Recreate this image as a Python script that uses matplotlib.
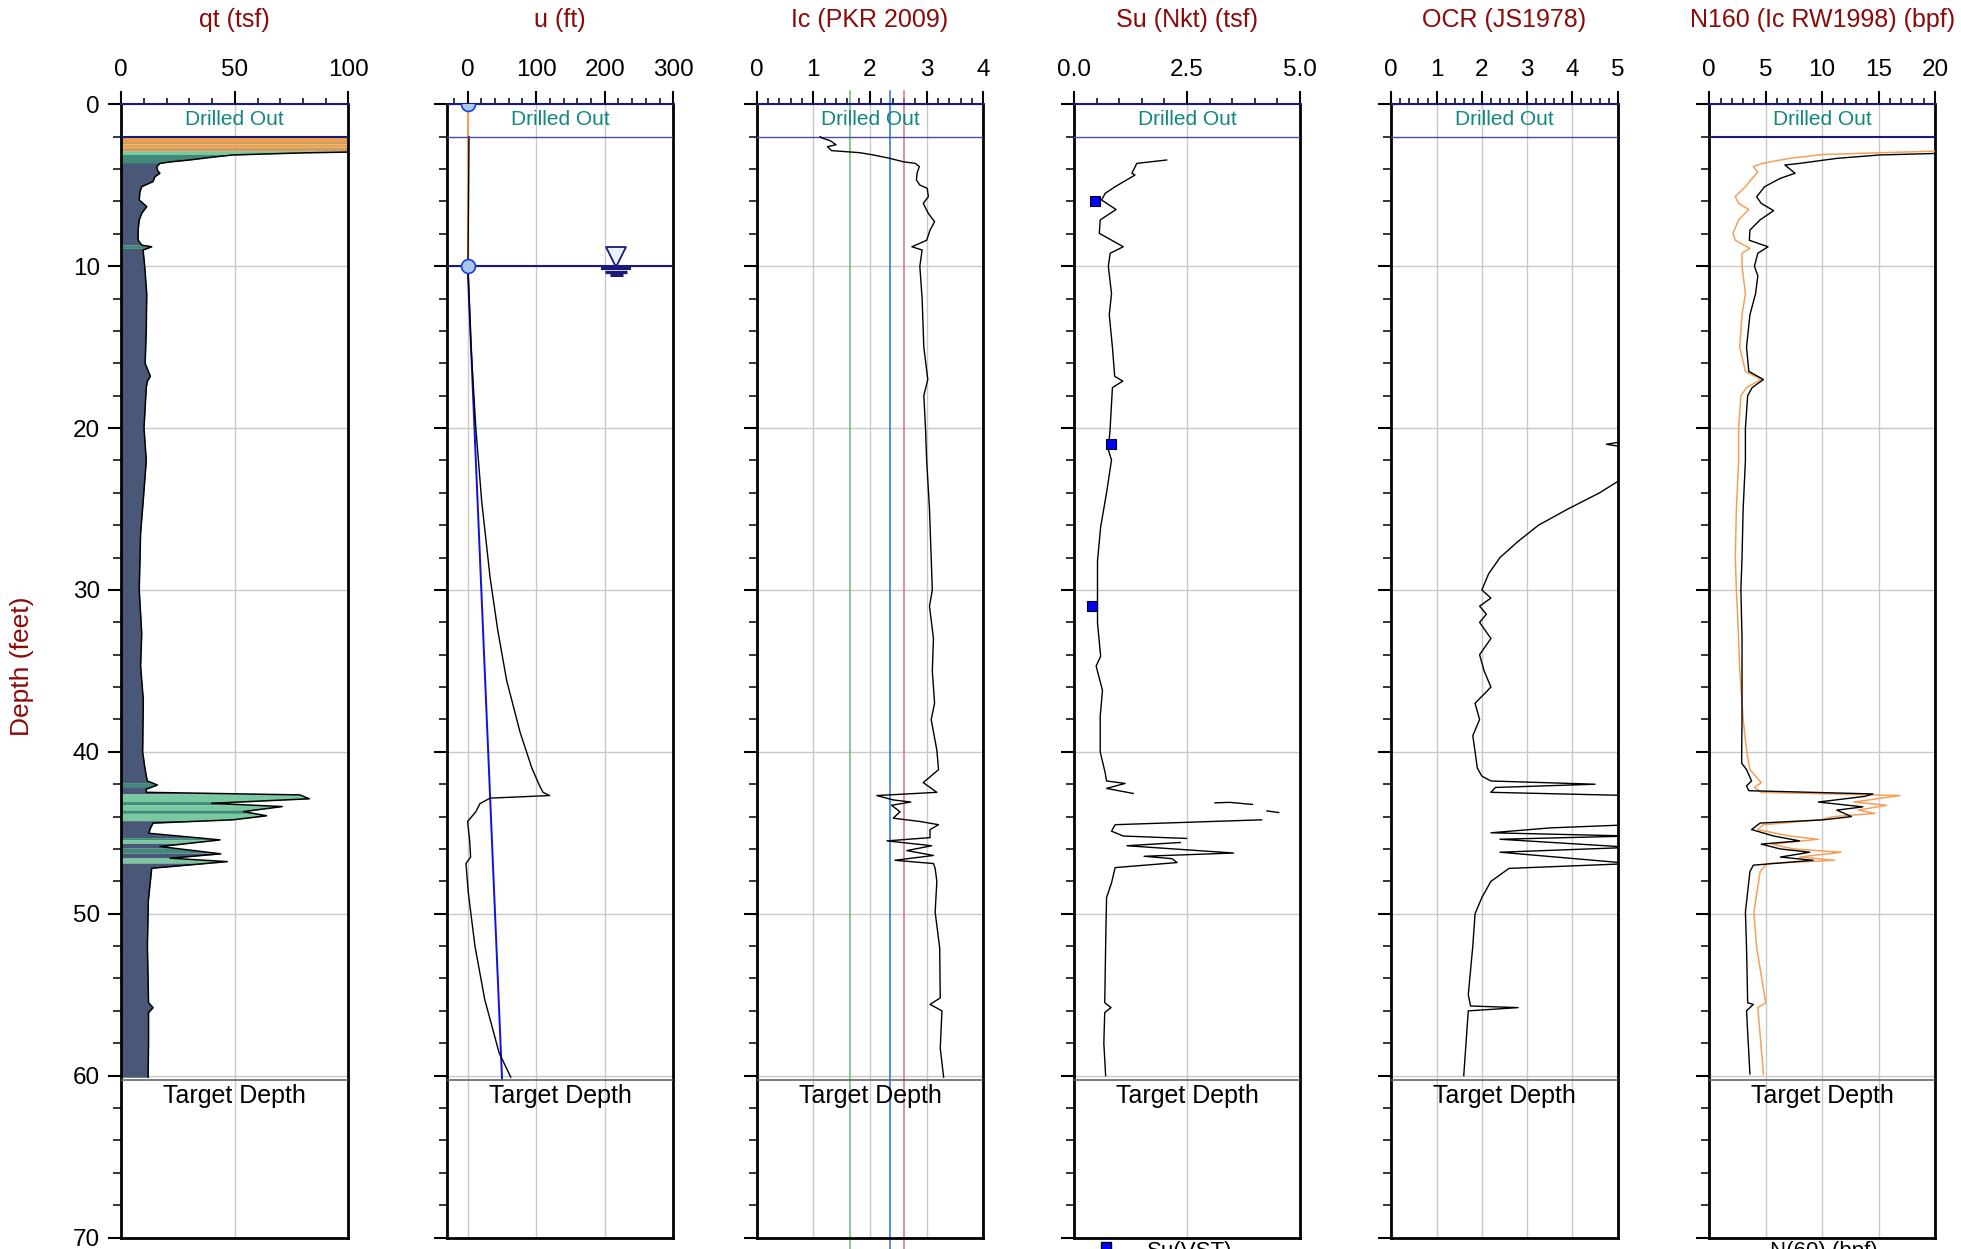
import numpy as np
import matplotlib
matplotlib.use("Agg")
import matplotlib.pyplot as plt
from matplotlib.ticker import MultipleLocator

plt.rcParams['font.family'] = ['Liberation Sans', 'DejaVu Sans']

# ---------------- data ----------------
titles = ["qt (tsf)", "u (ft)", "Ic (PKR 2009)", "Su (Nkt) (tsf)", "OCR (JS1978)", "N160 (Ic RW1998) (bpf)"]
xlims = [(0, 100), (-30.5, 300), (0, 4), (0, 5), (0, 5), (0, 20)]
xmajor = [50, 100, 1, 2.5, 1, 5]
xminor = [10, 20, 0.2, 0.5, 0.2, 1]
xfmt = [None, None, None, "%.1f", None, None]

drilled_out_depth = 2.0
target_depth = 60.25
water_depth = 10.0

# qt profile
qt_depth = [2.0, 2.9, 2.95, 3.0, 3.13, 3.3, 3.44, 3.55, 3.65, 3.85, 4.1, 4.26, 4.47, 4.77, 5.09, 5.4,
            5.91, 6.32, 6.73, 7.14, 7.76, 8.38, 8.7, 8.8, 9.0, 10.0, 11.7, 14.0, 16.0, 16.8, 17.1,
            17.5, 20.0, 22.0, 24.4, 26.5, 30.0, 32.7, 34.7, 36.8, 40.0, 40.9, 41.5, 41.8, 42.05, 42.3,
            42.5, 42.66, 42.9, 43.18, 43.38, 43.69, 43.95, 44.2, 44.4, 44.72, 45.03, 45.44, 45.85,
            46.3, 46.57, 46.78, 47.19, 49.2, 52.0, 55.5, 55.8, 56.1, 58.0, 60.1]
qt_value = [160, 120, 100, 80, 49, 38, 30, 22, 17, 15.6, 16, 17, 14.8, 14, 9, 8.2,
            7.9, 11.2, 9, 7.9, 7.4, 7.4, 9, 13.4, 9.6, 10.3, 11.2, 11, 10.5, 12.8, 11.5,
            11, 10, 11, 9.7, 8.5, 7.9, 9.0, 8.5, 9.7, 9.4, 10.3, 11, 11.5, 15.9, 11,
            11, 78.7, 82.8, 39.8, 70.9, 53.8, 64, 49, 14, 12.8, 12.1, 43.5, 17,
            43.8, 21.5, 46.7, 13.4, 11.9, 11.5, 12, 14, 12, 12, 11.8]
# soil behaviour layers: top, bottom, class
sbt_top = [2.0, 2.3, 2.45, 2.65, 2.9, 3.1, 3.6, 8.7, 8.9, 41.9, 42.15, 42.6, 43.07, 43.28, 43.59, 43.8,
           44.25, 45.3, 45.42, 45.65, 45.95, 46.25, 46.56, 46.87]
sbt_bot = [2.3, 2.45, 2.65, 2.9, 3.1, 3.6, 8.7, 8.9, 41.9, 42.15, 42.6, 43.07, 43.28, 43.59, 43.8, 44.25,
           45.3, 45.42, 45.65, 45.95, 46.25, 46.56, 46.87, 60.1]
sbt_cls = ["sand", "sandsilt", "sand", "sandsilt", "sandmix", "siltmix", "clay", "siltmix", "clay",
           "siltmix", "clay", "sandmix", "siltmix", "sandmix", "siltmix", "sandmix",
           "clay", "siltmix", "sandmix", "clay", "siltmix", "clay", "sandmix", "clay"]
sbt_colors = {"clay": "#4a5877", "siltmix": "#3f8a79", "sandmix": "#79c9a0",
              "sandsilt": "#c9a062", "sand": "#f0a04b"}

# pore pressure u2 (ft of water)
u_depth = [2.0, 5.0, 10.0, 15.0, 20.0, 24.5, 29.2, 32.5, 35.6, 38.8, 41.0, 42.1, 42.5, 42.7, 42.86,
           43.2, 43.7, 44.3, 45.5, 46.5, 46.9, 48.7, 52.0, 55.3, 58.6, 60.1]
u_value = [2.0, 1.5, 0.5, 5.0, 12.0, 20.5, 32.7, 44.0, 57.0, 76.6, 93.7, 105.0, 110.0, 119.5, 32.7,
           18.0, 12.0, 0.0, 3.0, 4.4, -2.4, 1.0, 10.7, 25.0, 46.0, 63.0]
u0_depth = [10.0, 60.25]
u0_value = [0.0, 50.25]
dry_depth = [0.0, 10.0]
dry_value = [0.0, 0.0]
wt_symbol_u = 217.0

# Ic
ic_depth = [2.0, 2.08, 2.25, 2.5, 2.62, 2.86, 2.99, 3.13, 3.34, 3.55, 3.65, 3.85, 4.26, 4.68, 4.99, 5.19,
            5.71, 6.12, 6.74, 7.25, 7.77, 8.4, 8.8, 9.0, 10.0, 12.0, 15.0, 17.0, 18.0, 20.0, 22.0, 25.0,
            28.0, 30.0, 31.0, 33.0, 35.0, 37.0, 38.0, 39.9, 41.1, 41.9, 42.5, 42.7, 42.97, 43.1, 43.3,
            43.7, 44.1, 44.3, 44.5, 44.8, 45.3, 45.5, 45.8, 46.1, 46.4, 46.7, 46.9, 47.2, 48.0, 49.9,
            52.1, 55.2, 55.6, 56.0, 58.3, 60.1]
ic_value = [1.12, 1.15, 1.30, 1.40, 1.25, 1.32, 1.82, 2.06, 2.35, 2.59, 2.80, 2.87, 2.83, 2.82, 2.88, 3.01,
            3.03, 2.94, 3.03, 3.14, 3.06, 3.00, 2.74, 2.92, 2.88, 2.92, 2.95, 3.02, 2.95, 2.98, 3.00, 3.05,
            3.08, 3.10, 3.05, 3.12, 3.10, 3.14, 3.08, 3.18, 3.21, 2.94, 3.18, 2.12, 2.41, 2.72, 2.38,
            2.53, 2.41, 2.88, 3.21, 3.06, 3.06, 2.30, 3.09, 2.65, 3.12, 2.44, 3.12, 3.15, 3.18, 3.15,
            3.23, 3.24, 3.06, 3.27, 3.24, 3.30]
ic_bounds = [1.64, 2.36, 2.60]
ic_bound_colors = ["#66bb77", "#2a6fd6", "#e07080"]

# Su (Nkt), NaN = gap
su_depth = [3.44, 3.65, 4.26, 4.37, 5.09, 5.5, 5.91, 6.5, 7.14, 7.97, 8.8, 9.2, 10.0, 11.7, 13.0, 15.0,
            16.8, 17.1, 17.5, 20.0, 21.35, 21.97, 24.0, 26.1, 28.2, 30.0, 32.05, 34.1, 34.7, 36.2, 37.8,
            40.0, 41.3, 41.8, 41.95, 42.26, 42.57, np.nan, 43.15, 43.12, 43.25, np.nan, 43.65, 43.75,
            np.nan, 44.2, 44.5, 44.9, 45.2, 45.35, np.nan, 45.6, 45.8, 46.25, 46.45, 46.6, 46.84, 47.15,
            48.1, 49.0, 52.0, 55.5, 55.8, 56.1, 58.0, 60.0]
su_value = [2.05, 1.39, 1.28, 1.35, 0.91, 0.69, 0.61, 0.93, 0.58, 0.56, 1.09, 0.80, 0.76, 0.83, 0.78, 0.85,
            0.90, 1.08, 0.85, 0.80, 0.76, 0.83, 0.72, 0.59, 0.52, 0.52, 0.52, 0.59, 0.49, 0.63, 0.58,
            0.58, 0.69, 0.72, 1.13, 0.72, 1.31, np.nan, 3.12, 3.45, 3.95, np.nan, 4.27, 4.53,
            np.nan, 4.15, 0.91, 0.83, 1.09, 2.49, np.nan, 2.35, 1.17, 3.53, 1.55, 2.17, 2.28, 0.91,
            0.83, 0.72, 0.70, 0.68, 0.82, 0.68, 0.66, 0.70]
vst_depth = [6.0, 21.0, 31.0]
vst_value = [0.46, 0.81, 0.40]

# OCR
ocr_depth = [20.8, 21.0, 21.2, np.nan, 23.3, 24.0, 25.0, 26.0, 27.0, 28.0, 29.0, 30.0, 30.5, 31.0, 31.5,
             32.0, 33.0, 34.0, 35.0, 36.0, 37.0, 38.0, 39.0, 40.0, 41.0, 41.5, 41.8, 42.0, 42.2, 42.5,
             42.7, 44.5, 44.7, 45.0, 45.2, 45.4, 45.9, 46.2, 46.9, 47.2, 48.0, 49.0, 50.0, 52.0, 55.0,
             55.7, 55.8, 56.0, 58.0, 60.0]
ocr_value = [5.2, 4.75, 5.2, np.nan, 5.0, 4.6, 3.9, 3.25, 2.8, 2.4, 2.15, 2.0, 2.2, 1.95, 2.1,
             1.95, 2.2, 1.95, 2.05, 2.2, 1.85, 1.95, 1.8, 1.85, 1.9, 2.0, 2.2, 4.5, 2.3, 2.2,
             5.3, 5.3, 3.5, 2.2, 5.3, 2.4, 5.3, 2.4, 5.3, 2.6, 2.2, 2.0, 1.85, 1.8, 1.7,
             1.75, 2.8, 1.7, 1.65, 1.6]

# N1(60) and N(60)
n160_depth = [3.0, 3.13, 3.34, 3.65, 3.75, 4.26, 4.57, 5.09, 5.71, 6.12, 6.57, 7.14, 7.77, 8.4, 8.8, 9.2,
              10.0, 10.6, 11.7, 13.0, 15.0, 16.5, 17.0, 17.5, 18.0, 20.0, 22.0, 25.0, 28.0, 30.0, 33.0,
              35.0, 38.0, 39.9, 40.7, 41.1, 41.8, 42.1, 42.4, 42.6, 42.75, 43.1, 43.4, 43.6, 44.0, 44.2,
              44.4, 44.8, 45.2, 45.5, 45.7, 46.0, 46.2, 46.5, 46.7, 47.0, 47.4, 49.9, 52.1, 55.5, 55.6,
              56.0, 59.9]
n160_value = [22, 15.1, 11.3, 8.0, 6.7, 7.6, 6.3, 4.9, 4.2, 4.6, 5.7, 4.5, 3.6, 3.55, 5.2, 4.3,
              4.0, 4.3, 4.1, 3.6, 3.3, 3.5, 4.8, 3.8, 3.4, 3.2, 3.2, 3.0, 2.9, 2.8, 2.9,
              2.9, 2.9, 2.87, 2.87, 3.3, 3.75, 3.3, 3.5, 14.5, 13.8, 9.66, 13.6, 11.3, 12.6, 10.1,
              4.5, 3.75, 5.7, 8.0, 4.6, 6.3, 8.9, 6.3, 9.2, 3.9, 3.6, 3.2, 3.3, 3.4, 3.9,
              3.3, 3.6]
n60_depth = [2.85, 3.1, 3.34, 3.65, 3.85, 4.2, 4.5, 5.09, 5.7, 6.12, 6.5, 7.14, 7.97, 8.4, 8.9, 9.2,
             10.0, 11.7, 13.0, 15.0, 16.5, 17.0, 17.5, 18.0, 20.0, 22.0, 25.0, 28.0, 30.0, 33.0, 35.0,
             38.0, 39.9, 41.1, 41.9, 42.2, 42.5, 42.7, 43.1, 43.3, 43.6, 43.8, 44.0, 44.2, 44.5, 44.8,
             45.2, 45.4, 45.7, 46.0, 46.2, 46.5, 46.7, 46.9, 47.4, 49.9, 52.1, 55.5, 55.8, 59.9]
n60_value = [22, 10.1, 7.1, 4.7, 3.9, 4.3, 3.9, 3.2, 2.3, 2.6, 3.5, 2.6, 2.1, 2.3, 3.6, 2.9,
             2.9, 3.2, 2.9, 2.7, 3.2, 4.6, 3.3, 2.8, 2.6, 2.6, 2.4, 2.3, 2.4, 2.6, 2.7,
             3.0, 3.3, 3.6, 4.6, 4.0, 4.6, 16.9, 12.8, 15.7, 13.2, 14.7, 11.0, 9.8, 4.8, 4.3,
             7.1, 9.66, 5.5, 7.5, 11.7, 8.0, 11.1, 5.1, 4.5, 3.95, 4.2, 5.0, 4.3, 4.8]

# ---------------- layout ----------------
W, H = 1961, 1249
fig = plt.figure(figsize=(W / 100, H / 100), dpi=100)
lefts = [121.3, 446.7, 756.7, 1074.0, 1391.3, 1709.3]
rights = [348.3, 673.3, 983.3, 1300.0, 1617.7, 1935.0]
top_px, bot_px = 104.3, 1237.5

TITLE_C = "#8b0a0a"
GRID_C = "#c9c9c9"
NAVY = "#1a1a78"
LINE_BLUE = "#4b4bb0"

axes = []
for i in range(6):
    ax = fig.add_axes([lefts[i] / W, 1 - bot_px / H, (rights[i] - lefts[i]) / W, (bot_px - top_px) / H])
    axes.append(ax)
    ax.set_xlim(*xlims[i])
    ax.set_ylim(70, 0)
    ax.xaxis.tick_top()
    ax.xaxis.set_major_locator(MultipleLocator(xmajor[i]))
    ax.xaxis.set_minor_locator(MultipleLocator(xminor[i]))
    if xfmt[i]:
        ax.xaxis.set_major_formatter(matplotlib.ticker.FormatStrFormatter(xfmt[i]))
    ax.yaxis.set_major_locator(MultipleLocator(10))
    ax.yaxis.set_minor_locator(MultipleLocator(2))
    ax.tick_params(axis='x', which='major', length=9.5, width=1.5, labelsize=17.5, pad=7,
                   top=True, bottom=False, labeltop=True, labelbottom=False, direction='out')
    ax.tick_params(axis='x', which='minor', length=4.5, width=1.1, top=True, bottom=False)
    ax.tick_params(axis='y', which='major', length=9.5, width=1.5, labelsize=17.5, pad=6,
                   left=True, right=False, labelleft=(i == 0))
    ax.tick_params(axis='y', which='minor', length=5.5, width=1.1, left=True, right=False)
    for s in ['left', 'right', 'bottom']:
        ax.spines[s].set_linewidth(2.0)
        ax.spines[s].set_color('black')
    ax.spines['top'].set_linewidth(1.5)
    ax.spines['top'].set_color(NAVY)
    # grid
    lo, hi = xlims[i]
    gx = np.arange(np.ceil(lo / xmajor[i]) * xmajor[i], hi, xmajor[i])
    for g in gx:
        if lo < g < hi:
            ax.axvline(g, color=GRID_C, lw=1.0, zorder=0)
    for g in range(10, 70, 10):
        ax.axhline(g, color=GRID_C, lw=1.0, zorder=0)
    # drilled out / target depth
    ax.axhline(0, color=NAVY, lw=1.5, zorder=3)
    ax.axhline(drilled_out_depth, color=(NAVY if i in (0, 5) else LINE_BLUE),
               lw=(1.5 if i in (0, 5) else 1.0), zorder=3)
    ax.text(0.5, drilled_out_depth / 2 - 0.05, "Drilled Out", transform=ax.get_yaxis_transform(),
            ha='center', va='center', color="#12877f", fontsize=15)
    ax.axhline(target_depth, color="#666666", lw=1.2, zorder=3)
    ax.text(0.5, target_depth + 1.0, "Target Depth", transform=ax.get_yaxis_transform(),
            ha='center', va='center', color="black", fontsize=18)
    fig.text((lefts[i] + rights[i]) / 2 / W, 1 - 20 / H, titles[i], ha='center', va='center',
             color=TITLE_C, fontsize=18)

fig.text(22 / W, 1 - 666 / H, "Depth (feet)", rotation=90, ha='center', va='center',
         color=TITLE_C, fontsize=19)

# ---- panel 1: qt with SBT fill ----
ax = axes[0]
qd = np.array(qt_depth)
qv = np.array(qt_value)
for t, b, c in zip(sbt_top, sbt_bot, sbt_cls):
    d = np.concatenate([[t], qd[(qd > t) & (qd < b)], [b]])
    v = np.interp(d, qd, qv)
    ax.fill_betweenx(d, 0, v, color=sbt_colors[c], lw=0, zorder=1)
ax.plot(qv, qd, color='black', lw=1.1, zorder=2)

# ---- panel 2: u ----
ax = axes[1]
ax.plot(dry_value, dry_depth, color="#f0a060", lw=1.5, zorder=2)
ax.plot(u0_value, u0_depth, color="#1010e0", lw=1.4, zorder=2)
ax.plot(u_value, u_depth, color='black', lw=1.0, zorder=2)
ax.plot([0, 0], [0, water_depth], ls='none', marker='o', ms=10, mfc="#a9c8f0", mec="#1a3fe0",
        mew=1.2, zorder=4)
ax.axhline(water_depth, color=NAVY, lw=1.5, zorder=3)
ax.plot([wt_symbol_u], [water_depth - 0.55], marker='v', ms=15, mfc="#e8f4ff", mec=NAVY, mew=1.3,
        ls='none', zorder=4)
for dd, half, lw_ in [(water_depth + 0.12, 22, 3.0), (water_depth + 0.38, 16, 2.4), (water_depth + 0.56, 10, 2.2)]:
    ax.plot([wt_symbol_u - half, wt_symbol_u + half], [dd, dd], color=NAVY, lw=lw_, solid_capstyle='butt', zorder=4)

# ---- panel 3: Ic ----
ax = axes[2]
for b, c in zip(ic_bounds, ic_bound_colors):
    ax.plot([b, b], [-0.8, 71.0], color=c, lw=1.1, clip_on=False, zorder=2)
ax.plot(ic_value, ic_depth, color='black', lw=1.0, zorder=3)

# ---- panel 4: Su ----
ax = axes[3]
ax.plot(su_value, su_depth, color='black', lw=1.0, zorder=3)
ax.plot(vst_value, vst_depth, ls='none', marker='s', ms=7, mfc="#0000ff", mec='black', mew=0.8, zorder=4)

# ---- panel 5: OCR ----
ax = axes[4]
ax.plot(ocr_value, ocr_depth, color='black', lw=1.0, zorder=3)

# ---- panel 6: N160 ----
ax = axes[5]
ax.plot(n60_value, n60_depth, color="#f5a05a", lw=1.1, zorder=3)
ax.plot(n160_value, n160_depth, color='black', lw=1.0, zorder=3)

# legends that sit at the lower edge of the page (cut off as in the source)
fig.lines.append(plt.Line2D([1105.5 / W], [1 - 1247 / H], transform=fig.transFigure, marker='s', ms=7,
                            mfc="#0000ff", mec='black', ls='none'))
fig.text(1147 / W, 1 - 1241 / H, "Su(VST)", ha='left', va='top', fontsize=16)
fig.text(1770 / W, 1 - 1241 / H, "N(60) (bpf)", ha='left', va='top', fontsize=16)

fig.savefig("out.png", dpi=100)
